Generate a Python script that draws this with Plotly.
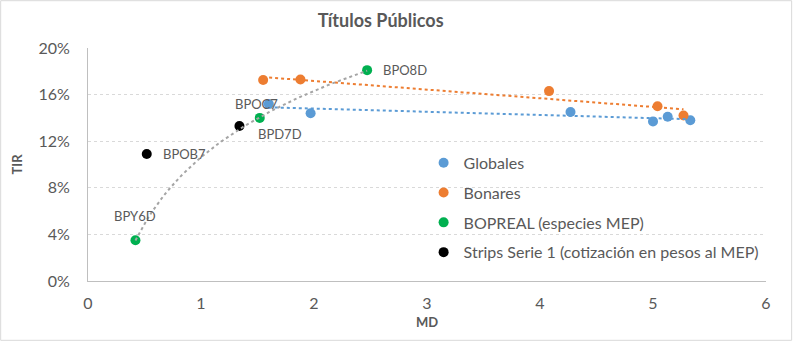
import numpy as np
import plotly.graph_objects as go

# Data
glob_md = [1.60, 1.97, 4.27, 5.00, 5.13, 5.33]
glob_tir = [0.152, 0.144, 0.145, 0.137, 0.141, 0.138]
bon_md = [1.55, 1.88, 4.08, 5.04, 5.27]
bon_tir = [0.1725, 0.173, 0.163, 0.150, 0.142]
bop_md = [0.42, 1.52, 2.47]
bop_tir = [0.035, 0.140, 0.181]
bop_lbl = ["BPY6D", "BPD7D", "BPO8D"]
str_md = [0.52, 1.34]
str_tir = [0.109, 0.133]
str_lbl = ["BPOB7", "BPOC7"]

FONT = "Lato"
GRAY = "#595959"

fig = go.Figure()

def add_pts(x, y, name, color):
    fig.add_trace(go.Scatter(
        x=x, y=y, name=name, mode="markers",
        marker=dict(color=color, size=10, line=dict(width=0)),
        legendgroup=name))

add_pts(glob_md, glob_tir, "Globales", "#5B9BD5")
add_pts(bon_md, bon_tir, "Bonares", "#ED7D31")
add_pts(bop_md, bop_tir, "BOPREAL (especies MEP)", "#00B050")
add_pts(str_md, str_tir, "Strips Serie 1 (cotización en pesos al MEP)", "#000000")

# Trendlines computed from the data (linear and logarithmic fits)
def lin_trend(x, y, color):
    b, a = np.polyfit(x, y, 1)
    xs = np.array([min(x), max(x)])
    fig.add_trace(go.Scatter(x=xs, y=a + b * xs, mode="lines", showlegend=False,
                             hoverinfo="skip",
                             line=dict(color=color, width=2, dash="dot")))

lin_trend(glob_md, glob_tir, "#5B9BD5")
lin_trend(bon_md, bon_tir, "#ED7D31")
b, a = np.polyfit(np.log(bop_md), bop_tir, 1)
xs = np.linspace(min(bop_md), max(bop_md), 60)
fig.add_trace(go.Scatter(x=xs, y=a + b * np.log(xs), mode="lines", showlegend=False,
                         hoverinfo="skip", line=dict(color="#A5A5A5", width=2, dash="dot")))

# data labels (offsets in pixels)
label_style = {
    "BPY6D": dict(xanchor="center", yanchor="bottom", xshift=0, yshift=14),
    "BPD7D": dict(xanchor="left", yanchor="top", xshift=-4, yshift=-6),
    "BPO8D": dict(xanchor="left", yanchor="middle", xshift=14, yshift=0),
    "BPOB7": dict(xanchor="left", yanchor="middle", xshift=14, yshift=0),
    "BPOC7": dict(xanchor="center", yanchor="bottom", xshift=17, yshift=12),
}
for xs_, ys_, ls_ in [(bop_md, bop_tir, bop_lbl), (str_md, str_tir, str_lbl)]:
    for x, y, t in zip(xs_, ys_, ls_):
        fig.add_annotation(x=x, y=y, text=t, showarrow=False,
                           font=dict(family=FONT, size=13, color=GRAY), **label_style[t])

fig.update_layout(
    width=793, height=341,
    margin=dict(l=88, r=27, t=48, b=60),
    paper_bgcolor="white", plot_bgcolor="white",
    font=dict(family=FONT, color=GRAY),
    title=dict(text="<b>Títulos Públicos</b>", x=0.48, xanchor="center", y=0.94, yanchor="middle",
               font=dict(family=FONT, size=18, color=GRAY)),
    legend=dict(x=0.495, y=0.58, xanchor="left", yanchor="top", bgcolor="rgba(0,0,0,0)",
                font=dict(family=FONT, size=16, color=GRAY), traceorder="grouped",
                tracegroupgap=6, itemwidth=30),
    xaxis=dict(range=[0, 6], dtick=1, showgrid=False, showline=True, linecolor="#BFBFBF",
               zeroline=False, ticks="", tickfont=dict(size=16, color=GRAY),
               ticklabelstandoff=8,
               title=dict(text="<b>MD</b>", font=dict(size=13, color=GRAY), standoff=6)),
    yaxis=dict(range=[0, 0.2], dtick=0.04, tickformat=".0%", showgrid=True,
               gridcolor="#D9D9D9", griddash="dot", gridwidth=1, showline=True,
               linecolor="#BFBFBF", zeroline=False, ticks="",
               tickfont=dict(size=16, color=GRAY), ticklabelstandoff=14,
               title=dict(text="<b>TIR</b>", font=dict(size=13, color=GRAY), standoff=12)),
)
fig.add_shape(type="rect", xref="paper", yref="paper",
              x0=-88/678 + 0.001, x1=1 + 27/678 - 0.002, y0=-60/233 + 0.003, y1=1 + 48/233 - 0.003,
              line=dict(color="#D9D9D9", width=1))

fig.write_html("out.html")
